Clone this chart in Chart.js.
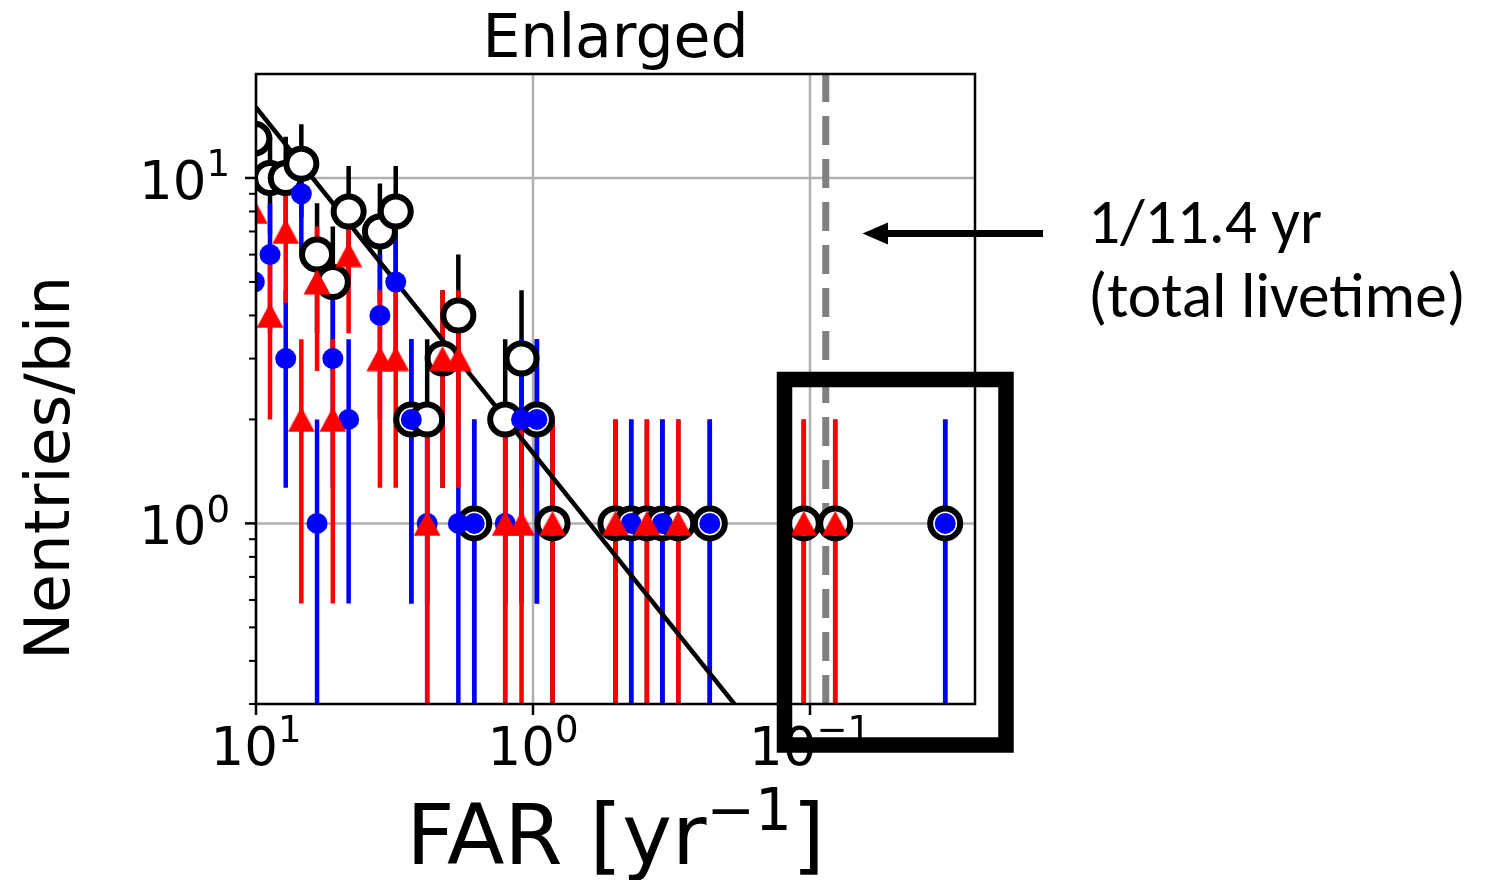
<!DOCTYPE html>
<html lang="en">
<head>
<meta charset="UTF-8">
<title>Enlarged</title>
<script src="https://cdn.jsdelivr.net/npm/chart.js@4"></script>
<style>
  html, body { margin: 0; padding: 0; background: #fff; }
  #chart { display: block; }
</style>
</head>
<body>
<canvas id="chart" width="1485" height="880"></canvas>
<script>
// bin centres (FAR in yr^-1) and counts per bin
const far         = [10.14, 8.90, 7.81, 6.86, 6.02, 5.28, 4.63, 3.57, 3.13, 2.75, 2.41, 2.12, 1.86, 1.63,
                     1.26, 1.10, 0.968, 0.850, 0.504, 0.442, 0.388, 0.341, 0.299, 0.230, 0.1053, 0.0811, 0.0325];
const redCounts   = [8, 4, 7, 2, 5, 2, 6, 3, 3, 0, 1, 3, 3, 0, 1, 1, 0, 1, 1, 0, 1, 0, 1, 0, 1, 1, 0];
const blueCounts  = [5, 6, 3, 9, 1, 3, 2, 4, 5, 2, 1, 0, 1, 1, 1, 2, 2, 0, 0, 1, 0, 1, 0, 1, 0, 0, 1];
const totalCounts = [13, 10, 10, 11, 6, 5, 8, 7, 8, 2, 2, 3, 4, 1, 2, 3, 2, 1, 1, 1, 1, 1, 1, 1, 1, 1, 1];

// power-law guide line
const fitFar = [10, 0.1];
const fitN   = [16, 0.16];

// total livetime marker
const livetimeFar = 1 / 11.4;

// axes
const farMin = 0.02537, farMax = 10;
const nMin = 0.3, nMax = 20;
const xMajor = [10, 1, 0.1];
const xTickExp = ['1', '0', '\u22121'];
const yMajor = [1, 10];
const yTickExp = ['0', '1'];
const yMinor = [0.3, 0.4, 0.5, 0.6, 0.7, 0.8, 0.9, 2, 3, 4, 5, 6, 7, 8, 9];

const MPL = '"DejaVu Sans", sans-serif';

function pointData(counts) {
  return far.map((f, i) => ({ x: f, y: counts[i] })).filter(p => p.y > 0);
}

// sqrt(N) error bars as broken line segments
function errorBarData(counts) {
  const pts = [];
  far.forEach((f, i) => {
    const n = counts[i];
    if (n <= 0) return;
    const e = Math.sqrt(n);
    pts.push({ x: f, y: Math.max(n - e, nMin) }, { x: f, y: n + e }, { x: f, y: null });
  });
  return pts;
}

function errorSet(counts, color, order) {
  return {
    data: errorBarData(counts), showLine: true, borderColor: color, borderWidth: 4.5,
    pointRadius: 0, spanGaps: false, tension: 0, clip: 0, order: order
  };
}

// red triangle marker (centred on its mid-height like matplotlib '^')
const tri = document.createElement('canvas');
tri.width = 28; tri.height = 26;
const tc = tri.getContext('2d');
tc.fillStyle = '#ff0000';
tc.beginPath();
tc.moveTo(14, 0.5); tc.lineTo(27.5, 25.5); tc.lineTo(0.5, 25.5);
tc.closePath(); tc.fill();

function line(ctx, x1, y1, x2, y2) {
  ctx.beginPath(); ctx.moveTo(x1, y1); ctx.lineTo(x2, y2); ctx.stroke();
}

// draws runs of text [{t, size, dy}] left to right
function drawRuns(ctx, runs, x, baseline, align) {
  let w = 0;
  runs.forEach(r => { ctx.font = r.size + 'px ' + MPL; r.w = ctx.measureText(r.t).width; w += r.w; });
  let left = align === 'center' ? x - w / 2 : (align === 'right' ? x - w : x);
  ctx.textAlign = 'left';
  ctx.textBaseline = 'alphabetic';
  runs.forEach(r => {
    ctx.font = r.size + 'px ' + MPL;
    ctx.fillText(r.t, left, baseline + (r.dy || 0));
    left += r.w;
  });
}

function powerLabel(exp, size) {
  return [{ t: '10', size: size }, { t: exp, size: size * 0.7, dy: -size * 0.43 }];
}

const decor = {
  id: 'decor',
  beforeDatasetsDraw(chart) {
    const { ctx, chartArea: a, scales: { x, y } } = chart;
    ctx.save();
    ctx.strokeStyle = '#b0b0b0';
    ctx.lineWidth = 2.5;
    xMajor.forEach(v => { const px = x.getPixelForValue(v); line(ctx, px, a.top, px, a.bottom); });
    yMajor.forEach(v => { const py = y.getPixelForValue(v); line(ctx, a.left, py, a.right, py); });
    ctx.restore();
  },
  afterDatasetsDraw(chart) {
    const { ctx, chartArea: a, scales: { x, y } } = chart;
    ctx.save();
    ctx.strokeStyle = '#000';
    ctx.fillStyle = '#000';

    // spines
    ctx.lineWidth = 2.5;
    ctx.strokeRect(a.left, a.top, a.right - a.left, a.bottom - a.top);

    // ticks
    xMajor.forEach(v => { const px = x.getPixelForValue(v); line(ctx, px, a.bottom, px, a.bottom + 11); });
    yMajor.forEach(v => { const py = y.getPixelForValue(v); line(ctx, a.left - 11, py, a.left, py); });
    ctx.lineWidth = 2;
    yMinor.forEach(v => { const py = y.getPixelForValue(v); line(ctx, a.left - 7, py, a.left, py); });

    // tick labels
    xMajor.forEach((v, i) => drawRuns(ctx, powerLabel(xTickExp[i], 53), x.getPixelForValue(v), 765, 'center'));
    yMajor.forEach((v, i) => drawRuns(ctx, powerLabel(yTickExp[i], 53), 230, y.getPixelForValue(v) + 21, 'right'));

    // title and axis labels
    const cx = (a.left + a.right) / 2;
    drawRuns(ctx, [{ t: 'Enlarged', size: 60 }], cx, 57, 'center');
    drawRuns(ctx, [{ t: 'FAR [yr', size: 84 }, { t: '\u22121', size: 58, dy: -34 }, { t: ']', size: 84 }], cx, 864, 'center');
    ctx.save();
    ctx.translate(69, 468);
    ctx.rotate(-Math.PI / 2);
    drawRuns(ctx, [{ t: 'Nentries/bin', size: 63 }], 0, 0, 'center');
    ctx.restore();

    // annotation: arrow and text
    ctx.lineWidth = 7;
    line(ctx, 1043, 233.5, 884, 233.5);
    ctx.beginPath();
    ctx.moveTo(862.5, 233.5); ctx.lineTo(888, 222.5); ctx.lineTo(888, 244.5);
    ctx.closePath(); ctx.fill();

    ctx.font = '64px Carlito, Lato, sans-serif';
    ctx.textAlign = 'left';
    ctx.textBaseline = 'alphabetic';
    const sx = Math.min(1, 378 / ctx.measureText('(total livetime)').width);
    ctx.save();
    ctx.translate(1088, 0);
    ctx.scale(sx, 1);
    ctx.fillText('1/11.4 yr', 0, 243);
    ctx.fillText('(total livetime)', 0, 317);
    ctx.restore();

    // highlight box
    ctx.lineWidth = 15.5;
    ctx.lineJoin = 'miter';
    ctx.strokeRect(784.5, 379.5, 221.5, 365.5);
    ctx.restore();
  }
};

new Chart(document.getElementById('chart'), {
  type: 'scatter',
  data: {
    datasets: [
      {
        data: [{ x: livetimeFar, y: nMin }, { x: livetimeFar, y: nMax }],
        showLine: true, borderColor: '#808080', borderWidth: 7, borderDash: [29, 14],
        pointRadius: 0, clip: 0, order: 100
      },
      errorSet(totalCounts, '#000000', 90),
      errorSet(blueCounts, '#0000ff', 80),
      errorSet(redCounts, '#ff0000', 70),
      {
        data: fitFar.map((f, i) => ({ x: f, y: fitN[i] })),
        showLine: true, borderColor: '#000000', borderWidth: 4.5,
        pointRadius: 0, clip: 0, order: 60
      },
      {
        data: pointData(totalCounts), pointStyle: 'circle', pointRadius: 15,
        backgroundColor: '#ffffff', borderColor: '#000000', borderWidth: 6, clip: 0, order: 30
      },
      {
        data: pointData(blueCounts), pointStyle: 'circle', pointRadius: 10.5,
        backgroundColor: '#0000ff', borderWidth: 0, clip: 0, order: 20
      },
      {
        data: pointData(redCounts), pointStyle: tri, pointRadius: 12,
        backgroundColor: '#ff0000', borderWidth: 0, clip: 0, order: 10
      }
    ]
  },
  options: {
    responsive: false,
    animation: false,
    devicePixelRatio: 1,
    events: [],
    layout: { padding: { left: 256, top: 74, right: 510, bottom: 176 } },
    plugins: { legend: { display: false }, tooltip: { enabled: false } },
    scales: {
      x: { type: 'logarithmic', reverse: true, min: farMin, max: farMax, display: false },
      y: { type: 'logarithmic', min: nMin, max: nMax, display: false }
    }
  },
  plugins: [decor]
});
</script>
</body>
</html>
